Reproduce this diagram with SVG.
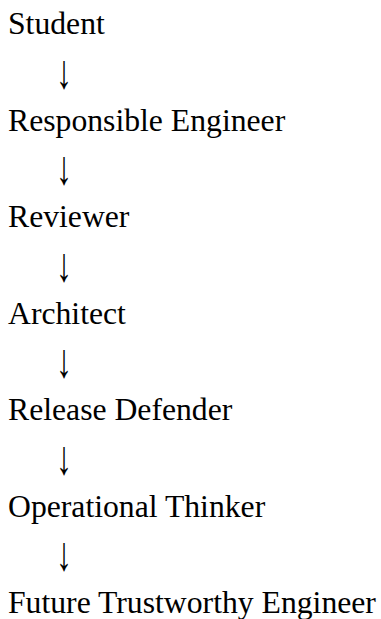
<svg xmlns="http://www.w3.org/2000/svg" width="381" height="619" viewBox="0 0 381 619">
<style>
.t{font-family:"Liberation Serif","Times New Roman",serif;font-size:31.7px;fill:#000}
.a{font-family:"Liberation Serif","DejaVu Serif",serif;font-size:32px;fill:#000}
</style>
<rect width="381" height="619" fill="#fff"/>
<g id="connectors">
<text class="a" transform="translate(56,88) scale(1,1.5)">↓</text>
<text class="a" transform="translate(56,184) scale(1,1.5)">↓</text>
<text class="a" transform="translate(56,281) scale(1,1.5)">↓</text>
<text class="a" transform="translate(56,377) scale(1,1.5)">↓</text>
<text class="a" transform="translate(56,474) scale(1,1.5)">↓</text>
<text class="a" transform="translate(56,570) scale(1,1.5)">↓</text>
</g>
<g id="student"><text class="t" x="8" y="34">Student</text></g>
<g id="responsible-engineer"><text class="t" x="8" y="131">Responsible Engineer</text></g>
<g id="reviewer"><text class="t" x="8" y="227">Reviewer</text></g>
<g id="architect"><text class="t" x="8" y="324">Architect</text></g>
<g id="release-defender"><text class="t" x="8" y="420">Release Defender</text></g>
<g id="operational-thinker"><text class="t" x="8" y="517">Operational Thinker</text></g>
<g id="future-trustworthy-engineer"><text class="t" x="8" y="613">Future Trustworthy Engineer</text></g>
</svg>
